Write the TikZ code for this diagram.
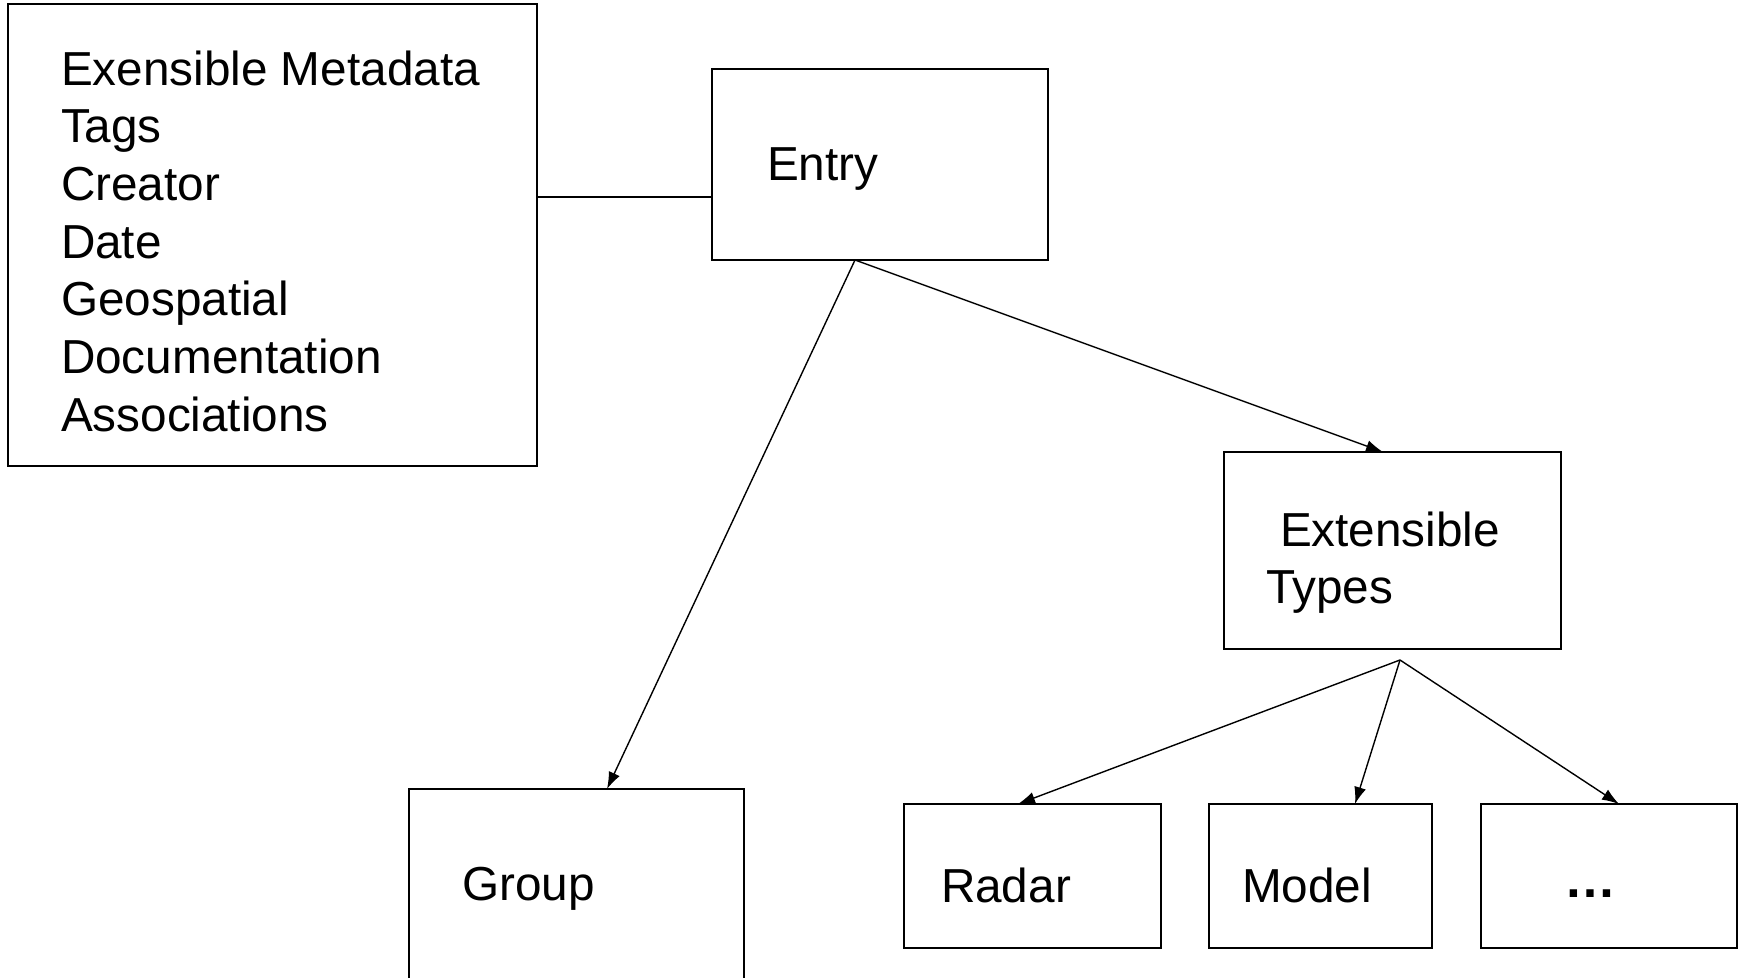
\documentclass[tikz,border=0pt]{standalone}
\usepackage{fontspec}
\setmainfont{Liberation Sans}
\usetikzlibrary{arrows.meta}
\begin{document}
\begin{tikzpicture}[x=1pt,y=-1pt,
  box/.style={draw,line width=1.6pt,inner sep=0pt,outer sep=0pt},
  lbl/.style={anchor=base west,inner sep=0pt,outer sep=0pt,font=\fontsize{47.7}{57.5}\selectfont},
  conn/.style={line width=1.4pt},
  arr/.style={conn,-{Latex[length=17pt,width=12pt]}}]
\useasboundingbox[fill=white] (0,0) rectangle (1742,977);
% boxes
\node[box,minimum width=529pt,minimum height=462pt] (meta) at (272.5,235) {};
\node[box,minimum width=336pt,minimum height=191pt] (entry) at (880,164.5) {};
\node[box,minimum width=337pt,minimum height=197pt] (ext) at (1392.5,550.5) {};
\node[box,minimum width=335pt,minimum height=240pt] (group) at (576.5,909) {};
\node[box,minimum width=257pt,minimum height=144pt] (radar) at (1032.5,876) {};
\node[box,minimum width=223pt,minimum height=144pt] (model) at (1320.5,876) {};
\node[box,minimum width=256pt,minimum height=144pt] (more) at (1609,876) {};
% texts
\foreach \t [count=\i] in {Exensible Metadata,Tags,Creator,Date,Geospatial,Documentation,Associations}
  \node[lbl] (m\i) at (61,{85+57.7*(\i-1)}) {\t};
\node[lbl] (tentry) at (767,180) {Entry};
\node[lbl] (text1) at (1280,546) {Extensible};
\node[lbl] (text2) at (1266,603) {Types};
\node[lbl] (tgroup) at (462,900) {Group};
\node[lbl] (tradar) at (941,902) {Radar};
\node[lbl] (tmodel) at (1242,902) {Model};
\node[lbl,font=\fontsize{52}{60}\selectfont] (tmore) at (1564,897) {\textbf{…}};
% connector points
\coordinate (eb) at ([xshift=-25pt]entry.south);
\coordinate (gt) at ([xshift=30.5pt]group.north);
\coordinate (xt) at ([xshift=-9.5pt]ext.north);
\coordinate (fan) at ([xshift=7.5pt,yshift=-11pt]ext.south);
\coordinate (rt) at ([xshift=-14.5pt]radar.north);
\coordinate (mt) at ([xshift=34.5pt]model.north);
\coordinate (dt) at ([xshift=10pt]more.north);
% connectors
\draw[conn] (meta.east |- 0,197) -- (entry.west |- 0,197);
\draw[arr] (eb) -- (gt);
\draw[arr] (eb) -- (xt);
\draw[arr] (fan) -- (rt);
\draw[arr] (fan) -- (mt);
\draw[arr] (fan) -- (dt);
\end{tikzpicture}
\end{document}
